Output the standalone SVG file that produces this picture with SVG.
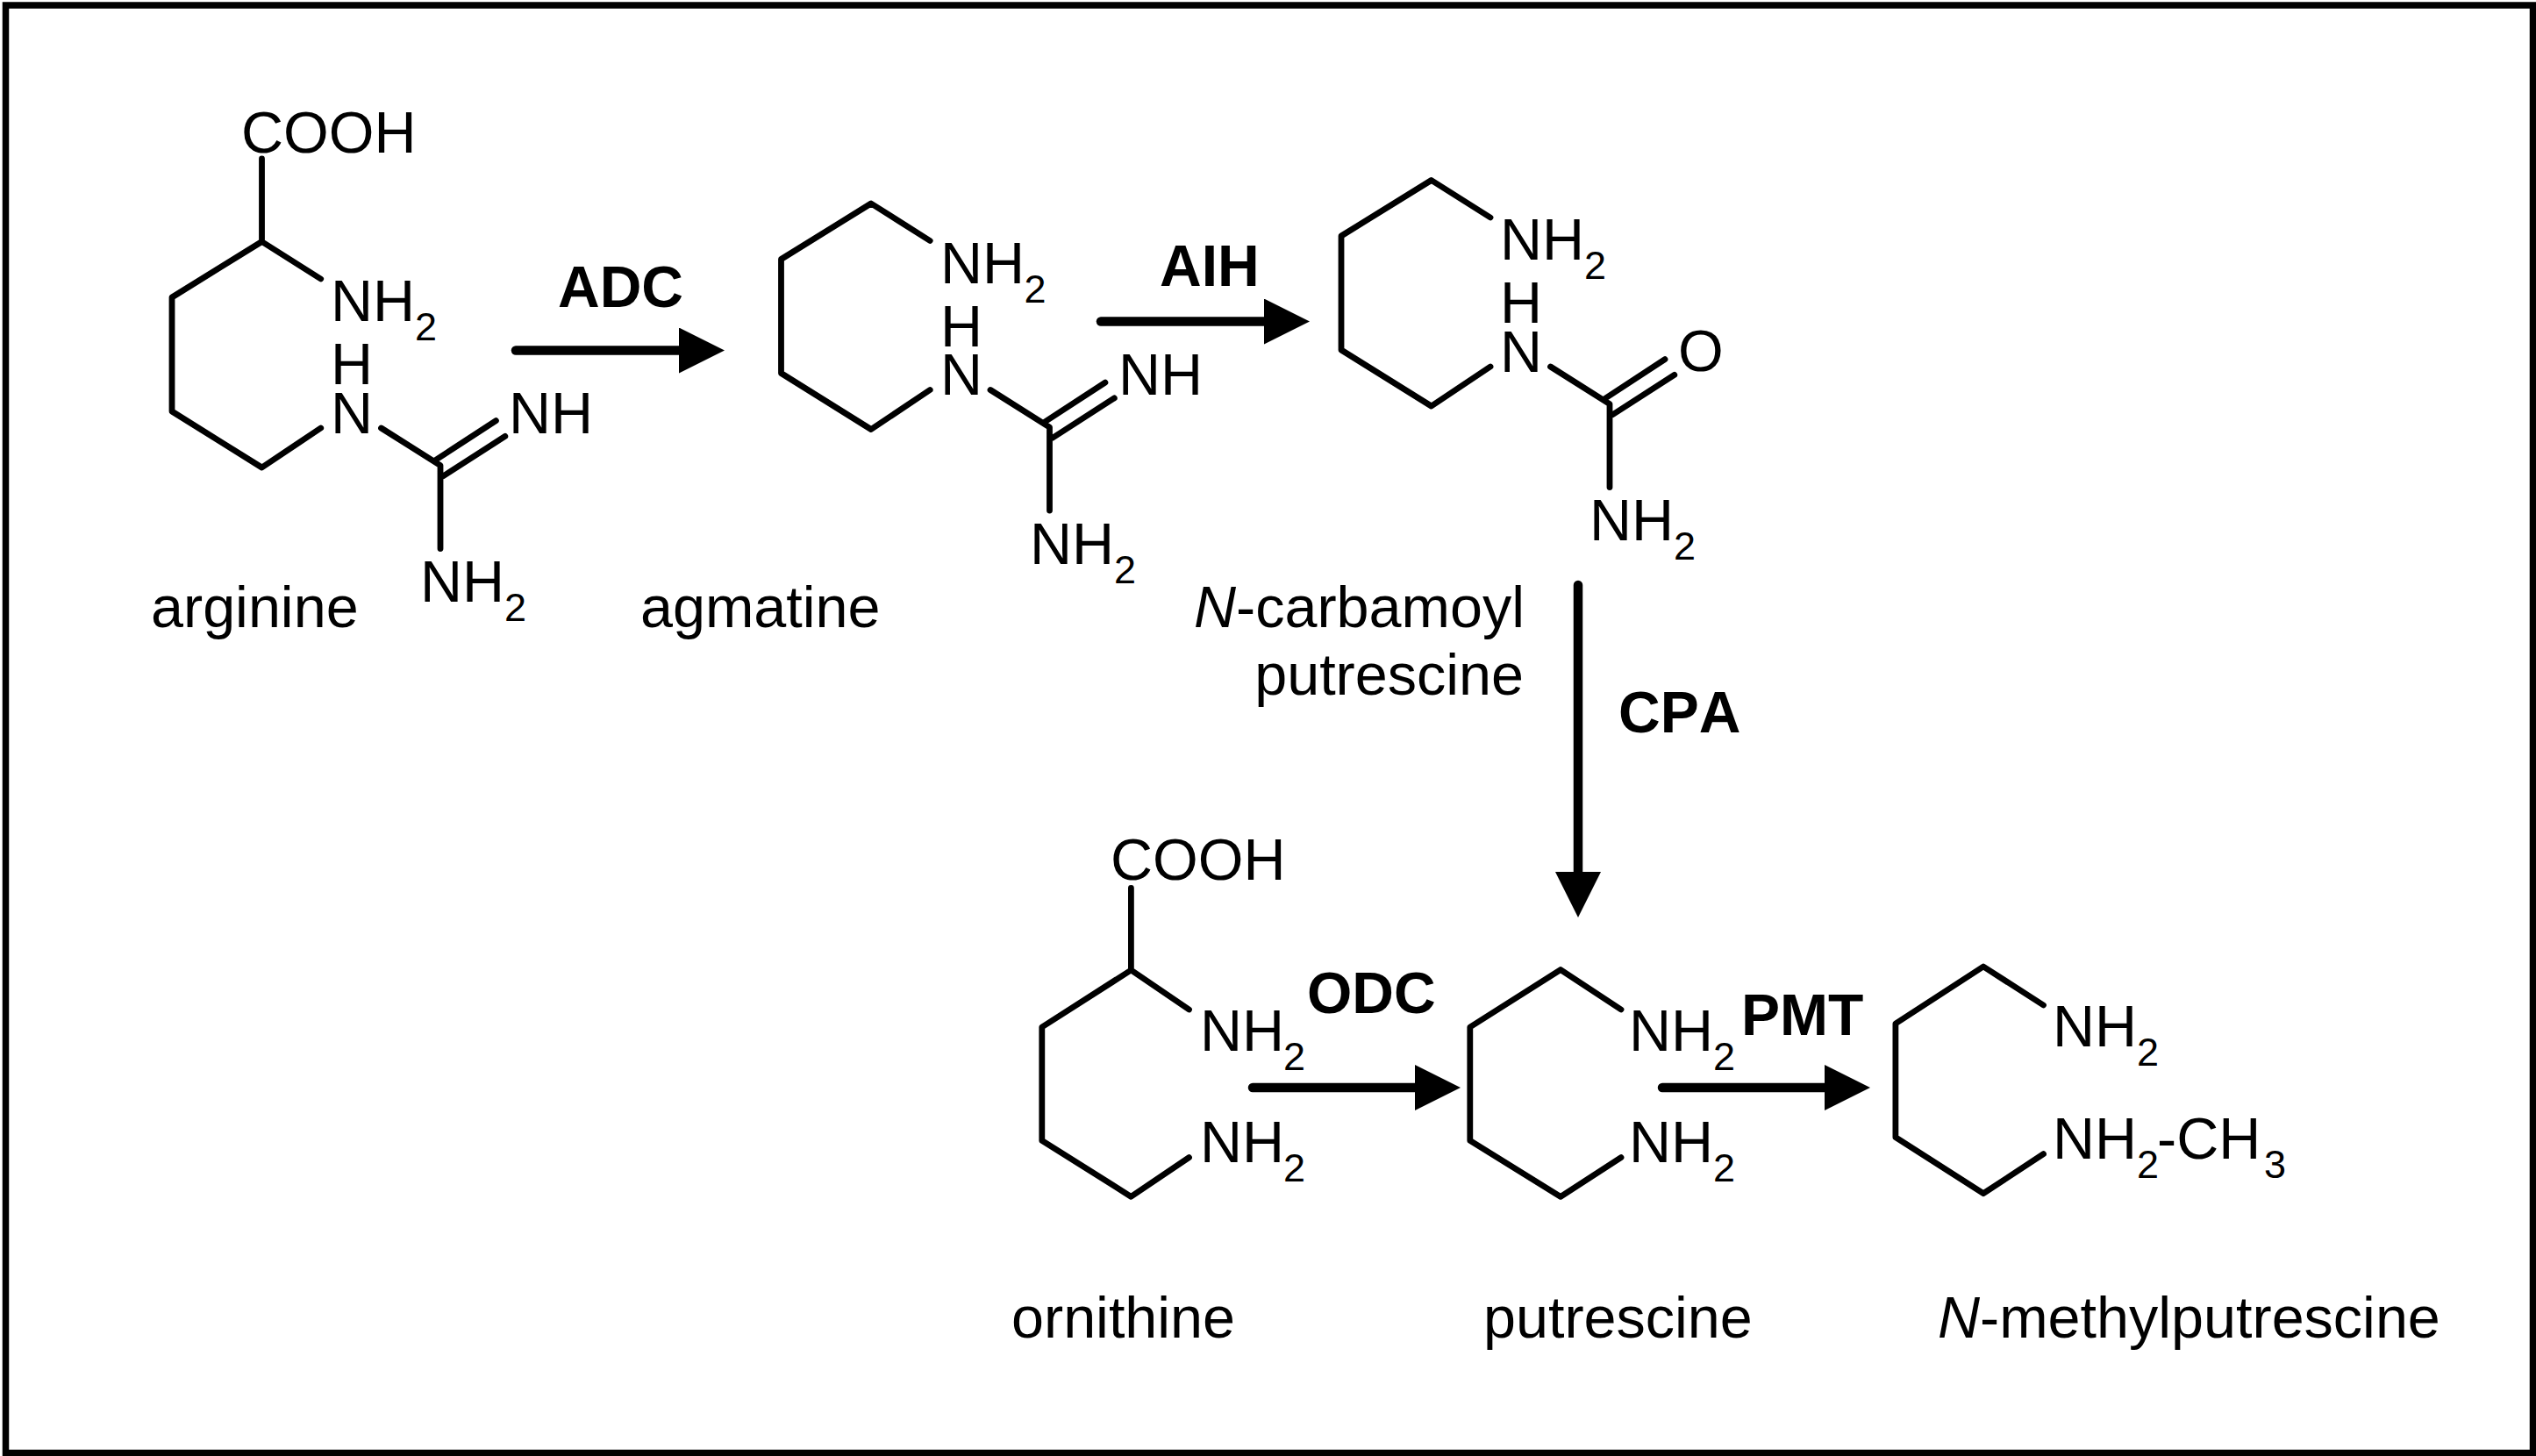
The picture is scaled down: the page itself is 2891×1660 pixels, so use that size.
<svg xmlns="http://www.w3.org/2000/svg" width="2891" height="1660" viewBox="0 0 2891 1660">
<style>
text{font-family:"Liberation Sans",Arial,sans-serif;fill:#000;font-kerning:none}
.t{font-size:66.5px}
.e{font-size:66px;font-weight:bold}
.s{font-size:45px}
.i{font-style:italic}
.b{fill:none;stroke:#000;stroke-width:6.8;stroke-linecap:round;stroke-linejoin:round}
.a{fill:none;stroke:#000;stroke-width:10.5;stroke-linecap:round}
</style>
<defs>
<marker id="head" markerUnits="userSpaceOnUse" markerWidth="52" markerHeight="52" viewBox="0 0 52 52" refX="1" refY="26" orient="auto">
<polygon points="0,0 52,26 0,52" fill="#000"/>
</marker>
</defs>
<rect width="2891" height="1660" fill="#fff"/>
<rect id="frame" x="6.5" y="6" width="2881" height="1650.5" fill="none" stroke="#000" stroke-width="7.5"/>

<g id="arginine">
<path class="b" d="M298.5 181V275.5L196 339V469L298.5 533L365.7 488M298.5 275.5L365.7 318M434.5 488L502 530.6V625.5M496.5 524.5L565.4 479.6M505 543L575.8 497.4"/>
<text class="t" x="275" y="174">COOH</text>
<text class="t" x="377" y="366">NH<tspan class="s" x="473" y="388">2</tspan></text>
<text class="t" x="377" y="438">H<tspan x="377" y="493.5">N</tspan></text>
<text class="t" x="580" y="493.5">NH</text>
<text class="t" x="479" y="686">NH<tspan class="s" x="575" y="708">2</tspan></text>
<text class="t" x="172" y="715">arginine</text>
</g>

<g id="agmatine">
<path class="b" d="M1060.2 274.5L993 232L890.5 295.5V425.5L993 489.5L1060.2 444.5M1129 444.5L1196.5 487.1V582M1191 481L1259.9 436.1M1199.5 499.5L1270.3 453.9"/>
<text class="t" x="1072" y="322.5">NH<tspan class="s" x="1167.5" y="344.5">2</tspan></text>
<text class="t" x="1072" y="394.5">H<tspan x="1072" y="450">N</tspan></text>
<text class="t" x="1275" y="450">NH</text>
<text class="t" x="1174" y="642.5">NH<tspan class="s" x="1270" y="664.5">2</tspan></text>
<text class="t" x="730" y="715">agmatine</text>
</g>

<g id="n-carbamoylputrescine">
<path class="b" d="M1699 248L1631.7 205.5L1529 269V399L1631.7 463L1699 418M1767.5 418L1835 460.6V555.5M1829.5 454.5L1898 409.6M1838 473L1908.8 427.4"/>
<text class="t" x="1710" y="296">NH<tspan class="s" x="1806" y="318">2</tspan></text>
<text class="t" x="1710" y="368">H<tspan x="1710" y="423.5">N</tspan></text>
<text class="t" x="1913" y="423">O</text>
<text class="t" x="1812" y="616">NH<tspan class="s" x="1908" y="638">2</tspan></text>
<text class="t" x="1738" y="715" text-anchor="end"><tspan class="i">N</tspan>-carbamoyl</text>
<text class="t" x="1737" y="792" text-anchor="end">putrescine</text>
</g>

<g id="ornithine">
<path class="b" d="M1289.4 1012.5V1106L1187.8 1171V1300.4L1289.4 1364.3L1355.5 1319.6M1289.4 1106L1355.5 1151"/>
<text class="t" x="1266" y="1003">COOH</text>
<text class="t" x="1368" y="1197.5">NH<tspan class="s" x="1463" y="1219.5">2</tspan></text>
<text class="t" x="1368" y="1325">NH<tspan class="s" x="1463" y="1347">2</tspan></text>
<text class="t" x="1153" y="1525">ornithine</text>
</g>

<g id="putrescine">
<path class="b" d="M1848 1151L1779 1105.5L1675.8 1171V1300.4L1779 1364.3L1848 1319.6"/>
<text class="t" x="1857" y="1197.5">NH<tspan class="s" x="1953" y="1219.5">2</tspan></text>
<text class="t" x="1857" y="1325">NH<tspan class="s" x="1953" y="1347">2</tspan></text>
<text class="t" x="1691" y="1525">putrescine</text>
</g>

<g id="n-methylputrescine">
<path class="b" d="M2329.5 1146L2261 1102L2160.9 1167V1296.7L2261 1360.7L2329.5 1315.7"/>
<text class="t" x="2340" y="1193">NH<tspan class="s" x="2436" y="1215">2</tspan></text>
<text class="t" x="2340" y="1320.5">NH<tspan class="s" x="2436" y="1342.5">2</tspan><tspan x="2459" y="1320.5">-CH</tspan><tspan class="s" x="2581" y="1342.5">3</tspan></text>
<text class="t" x="2209" y="1525"><tspan class="i">N</tspan>-methylputrescine</text>
</g>

<g id="connectors">
<line class="a" x1="588" y1="399.5" x2="775" y2="399.5" marker-end="url(#head)"/>
<line class="a" x1="1255" y1="366.5" x2="1442" y2="366.5" marker-end="url(#head)"/>
<line class="a" x1="1799" y1="667" x2="1799" y2="995" marker-end="url(#head)"/>
<line class="a" x1="1428" y1="1240" x2="1614" y2="1240" marker-end="url(#head)"/>
<line class="a" x1="1895" y1="1240" x2="2081" y2="1240" marker-end="url(#head)"/>
<text class="e" x="636" y="350">ADC</text>
<text class="e" x="1322" y="326">AIH</text>
<text class="e" x="1845" y="835">CPA</text>
<text class="e" x="1490" y="1155">ODC</text>
<text class="e" x="1985" y="1180">PMT</text>
</g>
</svg>
